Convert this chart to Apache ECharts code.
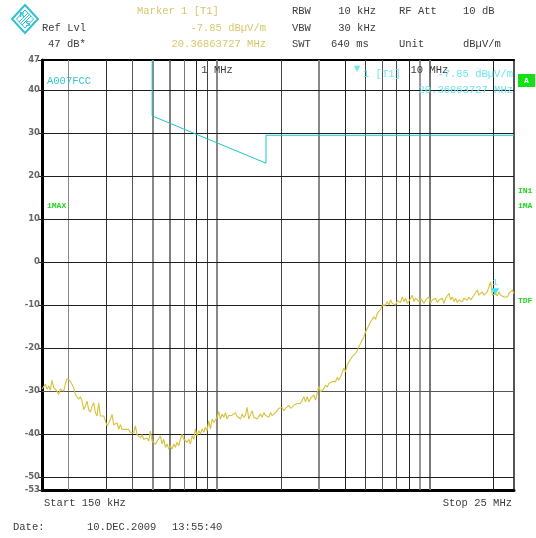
<!DOCTYPE html>
<html>
<head>
<meta charset="utf-8">
<script src="https://cdn.jsdelivr.net/npm/echarts@6/dist/echarts.min.js"></script>
<style>
  html, body { margin: 0; padding: 0; background: #fff; }
  #c { width: 536px; height: 538px; }
</style>
</head>
<body>
<div id="c"></div>
<script>
// Sweep: 150 kHz .. 25 MHz, log-spaced trace points (levels in dBµV/m)
const sweepStartMHz = 0.15;
const sweepStopMHz = 25;

const traceLevelsDb = [
  -29.5,-29.2,-28.4,-29.6,-28.8,-29.8,-27.5,-29.2,-29.6,-30.0,
  -30.8,-29.5,-29.6,-30.0,-28.4,-27.1,-26.9,-27.7,-28.4,-29.2,
  -30.8,-30.8,-31.9,-31.3,-32.3,-34.3,-33.5,-32.3,-34.3,-34.9,
  -33.5,-32.7,-35.0,-35.8,-32.7,-35.8,-36.0,-35.8,-36.2,-38.1,
  -37.4,-36.6,-35.4,-37.8,-37.8,-37.4,-38.9,-37.8,-38.9,-38.5,
  -38.9,-39.3,-38.9,-39.7,-39.3,-39.7,-38.1,-40.1,-40.5,-40.9,
  -40.1,-41.2,-41.6,-40.9,-41.6,-39.3,-41.6,-42.0,-42.4,-41.6,
  -41.2,
  -40.4,-42.3,-41.2,-43.1,-42.3,-43.5,-42.7,-43.5,-42.3,-43.1,
  -41.9,-42.7,-41.2,-40.0,-41.2,-40.8,-41.9,-41.2,-42.3,-40.4,
  -41.2,-38.8,-40.4,-39.2,-40.0,-38.8,-39.6,-38.4,-39.2,-36.9,
  -38.8,-36.5,-37.3,-36.9,-36.1,-34.8,-36.5,-35.3,-36.1,-35.0,
  -36.5,-35.7,-36.1,-35.6,-35.7,-35.0,-35.9,-35.7,-36.5,-35.3,
  -36.1,-35.6,-33.8,-36.5,-36.9,-34.6,-36.1,-35.7,-36.5,-36.1,
  -35.3,-36.1,-35.0,-35.7,-35.3,-36.1,-35.0,-35.7,-35.3,-35.0,
  -35.3,
  -34.0,-33.6,-33.8,-34.6,-34.0,-34.4,-33.3,-34.0,-33.6,-33.3,
  -33.6,-32.9,-33.3,-32.9,-32.5,-31.3,-32.5,-31.3,-32.5,-31.7,
  -32.1,-30.9,-32.1,-30.5,-28.9,-30.2,-29.8,-29.4,-28.6,-29.1,
  -28.2,-28.6,-27.8,-27.4,-27.8,-26.8,-27.4,-26.7,-26.3,-24.7,
  -25.5,-24.0,-23.2,-23.6,-22.0,-21.6,-21.2,-20.6,-19.7,-18.9,
  -18.1,-17.4,-16.2,-15.8,-14.7,-13.9,-13.5,-12.7,-13.3,-11.9,
  -11.6,-11.0,-10.0,-9.6,-10.0,-9.2,-10.0,-8.8,-9.6,-9.2,
  -10.0,-9.0,
  -8.8,-9.4,-8.1,-9.2,-8.4,-9.6,-9.1,-8.4,-7.7,-9.2,
  -8.4,-8.1,-9.2,-8.4,-8.8,-9.6,-8.8,-9.2,-8.1,-9.6,
  -8.8,-9.2,-8.4,-9.4,-8.8,-9.2,-8.4,-9.6,-8.4,-8.1,
  -7.3,-8.8,-8.1,-9.2,-8.4,-9.4,-8.8,-8.4,-9.2,-8.4,
  -8.1,-8.8,-8.1,-8.8,-8.4,-7.7,-8.1,-6.5,-7.7,-7.3,
  -6.9,-7.7,-8.1,-6.9,-7.3,-4.6,-7.7,-8.1,-7.3,-7.85,
  -6.9,-7.7,-7.3,-8.1,-7.7,-8.1,-7.3,-7.7,-6.5,-7.3
];

// Limit line A007FCC
const limitFreqMHz = [0.495, 0.495, 1.7, 1.7, 25];
const limitLevelDb = [47, 34, 23, 29.5, 29.5];

// Marker 1 [T1]
const markerFreqMHz = 20.36863727;
const markerLevelDb = -7.85;

// Graticule
const gridFreqMHz = [0.2, 0.3, 0.4, 0.5, 0.6, 0.7, 0.8, 0.9, 1, 2, 3, 4, 5, 6, 7, 8, 9, 10, 20];
const gridLevelDb = [40, 30, 20, 10, 0, -10, -20, -30, -40, -50];
const levelTicks = [47, 40, 30, 20, 10, 0, -10, -20, -30, -40, -50, -53];
const decadeLabels = [[1, '1 MHz'], [10, '10 MHz']];

// ---- drawing ----
const MONO = '"Liberation Mono", "DejaVu Sans Mono", monospace';
const GREY = '#3c3c3c';
const YELLOW = '#d9c66a';
const CYAN = '#34c6cc';
const CYAN_LIGHT = '#6fe6ee';
const GREEN = '#22d822';

const vLineStyle = {
  0.2: ['#8a8a8a', 1], 0.3: ['#333', 1], 0.4: ['#555', 1], 0.5: ['#888', 2],
  0.6: ['#555', 1.5], 0.7: ['#777', 1], 0.8: ['#222', 1], 0.9: ['#444', 1],
  1: ['#888', 2], 2: ['#444', 1], 3: ['#888', 2], 4: ['#222', 1], 5: ['#444', 1],
  6: ['#555', 1], 7: ['#444', 1], 8: ['#222', 1], 9: ['#777', 1.5], 10: ['#777', 2],
  20: ['#222', 1]
};

const N = traceLevelsDb.length;
const span = sweepStopMHz / sweepStartMHz;
const traceData = traceLevelsDb.map((v, i) => [sweepStartMHz * Math.pow(span, i / (N - 1)), v]);
const limitData = limitFreqMHz.map((f, i) => [f, limitLevelDb[i]]);

const gratLines = [];
gridFreqMHz.forEach(f => {
  const s = vLineStyle[f] || ['#444', 1];
  gratLines.push({ xAxis: f, lineStyle: { color: s[0], width: s[1], type: 'solid' } });
});
gridLevelDb.forEach(v => {
  gratLines.push({ yAxis: v, lineStyle: { color: v === -30 ? '#555' : '#1e1e1e', width: 1, type: 'solid' } });
});

function txt(x, y, text, o) {
  o = o || {};
  return {
    type: 'text', x: x, y: y, z: 50, silent: true,
    style: {
      text: text,
      fill: o.fill || GREY,
      font: o.font || ('10.5px ' + MONO),
      textAlign: o.align || 'left',
      textVerticalAlign: 'middle'
    }
  };
}

const chart = echarts.init(document.getElementById('c'), null, { renderer: 'canvas' });

const option = {
  backgroundColor: '#fff',
  animation: false,
  grid: { left: 42, top: 60, width: 472, height: 430, containLabel: false },
  xAxis: [
    {
      type: 'log', logBase: 10, min: sweepStartMHz, max: sweepStopMHz,
      axisLine: { show: true, onZero: false, lineStyle: { color: '#000', width: 3 } },
      axisTick: { show: false }, axisLabel: { show: false }, splitLine: { show: false }
    },
    {
      type: 'log', logBase: 10, min: sweepStartMHz, max: sweepStopMHz, position: 'top',
      axisLine: { show: true, onZero: false, lineStyle: { color: '#000', width: 2 } },
      axisTick: { show: false }, axisLabel: { show: false }, splitLine: { show: false }
    }
  ],
  yAxis: [
    {
      type: 'value', min: -53, max: 47,
      axisLine: { show: true, onZero: false, lineStyle: { color: '#000', width: 3 } },
      axisTick: { show: true, length: 4, inside: false, customValues: levelTicks, lineStyle: { color: '#222', width: 1 } },
      axisLabel: {
        show: true, customValues: levelTicks, margin: 2,
        fontSize: 8.5, fontFamily: 'DejaVu Sans', fontWeight: 'bold', color: '#666'
      },
      splitLine: { show: false }
    },
    {
      type: 'value', min: -53, max: 47, position: 'right',
      axisLine: { show: true, onZero: false, lineStyle: { color: '#555', width: 2 } },
      axisTick: { show: false }, axisLabel: { show: false }, splitLine: { show: false }
    }
  ],
  series: [
    {
      name: 'graticule', type: 'line', silent: true, z: 1,
      data: [[sweepStartMHz, -53]], symbol: 'none', lineStyle: { opacity: 0 },
      markLine: {
        z: 1, silent: true, symbol: ['none', 'none'], animation: false,
        label: { show: false }, emphasis: { disabled: true },
        data: gratLines
      }
    },
    {
      name: 'A007FCC', type: 'line', z: 6, silent: true,
      data: limitData, symbol: 'none',
      lineStyle: { color: '#1ec4c8', width: 1 }
    },
    {
      name: 'TRACE 1', type: 'line', z: 7, silent: true,
      data: traceData, symbol: 'none',
      lineStyle: { color: '#d6c23a', width: 1.1 },
      markPoint: {
        z: 8, silent: true,
        data: [{
          coord: [markerFreqMHz, markerLevelDb],
          symbol: 'triangle', symbolRotate: 180, symbolSize: [8, 7], symbolOffset: [0, -4],
          itemStyle: { color: '#3fe2f0' },
          label: { show: true, formatter: '1', position: 'top', distance: 1, color: '#5ee6f0', fontSize: 9, fontFamily: MONO }
        }]
      }
    }
  ]
};

chart.setOption(option);

// Annotations (header, soft keys, axis-tied labels)
const g = [];
// R&S logo
g.push({
  type: 'group', x: 25, y: 19, z: 50, silent: true,
  children: [
    { type: 'polygon', shape: { points: [[0, -14], [13, 0], [0, 14], [-13, 0]] }, style: { fill: 'none', stroke: '#2ec2d2', lineWidth: 2 } },
    { type: 'polygon', shape: { points: [[0, -9], [8.5, 0], [0, 9], [-8.5, 0]] }, style: { fill: 'none', stroke: '#2ec2d2', lineWidth: 1 } },
    { type: 'line', shape: { x1: -6, y1: 3, x2: 3, y2: -6 }, style: { stroke: '#2ec2d2', lineWidth: 1 } },
    { type: 'line', shape: { x1: -3, y1: 6, x2: 6, y2: -3 }, style: { stroke: '#2ec2d2', lineWidth: 1 } },
    { type: 'line', shape: { x1: -4.5, y1: 4.5, x2: 4.5, y2: -4.5 }, style: { stroke: '#2ec2d2', lineWidth: 1 } },
    { type: 'text', x: -3, y: -4, style: { text: 'R', fill: '#2ec2d2', font: 'bold 7px "DejaVu Sans"', textAlign: 'center', textVerticalAlign: 'middle' } },
    { type: 'text', x: 3, y: 5, style: { text: 'S', fill: '#2ec2d2', font: 'bold 7px "DejaVu Sans"', textAlign: 'center', textVerticalAlign: 'middle' } }
  ]
});
// header block
g.push(txt(137, 11, 'Marker 1 [T1]', { fill: YELLOW }));
g.push(txt(42, 28, 'Ref Lvl'));
g.push(txt(266, 28, '-7.85 dBµV/m', { fill: YELLOW, align: 'right' }));
g.push(txt(48, 44, '47 dB*'));
g.push(txt(266, 44, '20.36863727 MHz', { fill: YELLOW, align: 'right' }));
g.push(txt(292, 11, 'RBW'));
g.push(txt(376, 11, '10 kHz', { align: 'right' }));
g.push(txt(399, 11, 'RF Att'));
g.push(txt(463, 11, '10 dB'));
g.push(txt(292, 28, 'VBW'));
g.push(txt(376, 28, '30 kHz', { align: 'right' }));
g.push(txt(292, 44, 'SWT'));
g.push(txt(331, 44, '640 ms'));
g.push(txt(399, 44, 'Unit'));
g.push(txt(463, 44, 'dBµV/m'));
// limit line name, trace mode
g.push(txt(47, 81, 'A007FCC', { fill: CYAN, font: '10.5px ' + MONO }));
g.push(txt(47, 206, '1MAX', { fill: GREEN, font: 'bold 8px ' + MONO }));
// decade labels on the graticule
decadeLabels.forEach(d => {
  const px = chart.convertToPixel({ xAxisIndex: 0 }, d[0]);
  g.push(txt(px, 70, d[1], { align: 'center' }));
});
// marker readout
g.push(txt(357, 69, '▼', { fill: CYAN_LIGHT, font: '8px "DejaVu Sans"', align: 'center' }));
g.push(txt(363, 74, '1 [T1]', { fill: CYAN_LIGHT }));
g.push(txt(513, 74, '-7.85 dBµV/m', { fill: CYAN_LIGHT, align: 'right' }));
g.push(txt(513, 90, '20.36863727 MHz', { fill: CYAN_LIGHT, align: 'right' }));
// side annotations
g.push({ type: 'rect', shape: { x: 518, y: 74, width: 17, height: 13 }, style: { fill: '#14e014' }, z: 50, silent: true });
g.push(txt(526.5, 80.5, 'A', { fill: '#fff', font: 'bold 8px ' + MONO, align: 'center' }));
g.push(txt(518, 191, 'IN1', { fill: GREEN, font: 'bold 8px ' + MONO }));
g.push(txt(518, 206, '1MA', { fill: GREEN, font: 'bold 8px ' + MONO }));
g.push(txt(518, 301, 'TDF', { fill: GREEN, font: 'bold 8px ' + MONO }));
// footer
g.push(txt(44, 503, 'Start 150 kHz'));
g.push(txt(512, 503, 'Stop 25 MHz', { align: 'right' }));
g.push(txt(13, 527, 'Date:'));
g.push(txt(87, 527, '10.DEC.2009'));
g.push(txt(172, 527, '13:55:40'));

chart.setOption({ graphic: { elements: g } });
</script>
</body>
</html>
